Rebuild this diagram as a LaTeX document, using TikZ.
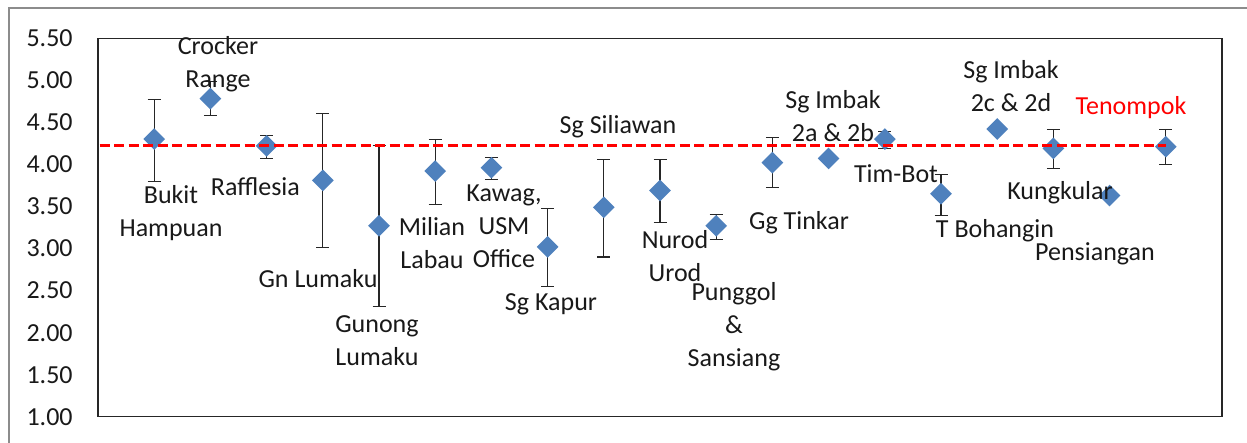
\documentclass[tikz,border=0pt]{standalone}
\usepackage{fontspec}
\setmainfont{Carlito}
\usetikzlibrary{shapes.geometric}
\definecolor{markblue}{RGB}{79,129,189}

\begin{document}
\begin{tikzpicture}[x=1.124cm, y=1.684cm,
    dmd/.style={diamond, fill=markblue, inner sep=0pt, minimum size=0.44cm},
    bar/.style={black!85, line width=0.6pt},
    lbl/.style={align=center, inner sep=0pt, text=black!90, font=\fontsize{14.8}{18.8}\selectfont}]
    \useasboundingbox (-1.744,0.691) rectangle (20.445,5.952);
    \draw[black!45, line width=1.1pt] (-1.584,0.691) -- (-1.584,5.857) -- (20.445,5.857);
    \draw[black!85, line width=0.6pt] (0,1) rectangle (20,5.5);
    \foreach \v [count=\i] in {1.00,1.50,2.00,2.50,3.00,3.50,4.00,4.50,5.00,5.50}
      \node[lbl, anchor=east] (tick\i) at (-0.445,\v) {\v};
    \foreach \x/\hi/\lo in {1/4.77/3.80, 2/4.98/4.58, 3/4.34/4.07, 4/4.60/3.01, 5/4.22/2.31,
        6/4.30/3.52, 7/4.08/3.82, 8/3.48/2.55, 9/4.06/2.90, 10/4.06/3.31, 11/3.41/3.11,
        12/4.32/3.73, 14/4.39/4.19, 15/3.88/3.39, 17/4.41/3.95, 19/4.41/4.00}
      \draw[bar] (\x,\lo) -- (\x,\hi)
        ([xshift=-0.13cm]\x,\hi) -- ([xshift=0.13cm]\x,\hi)
        ([xshift=-0.13cm]\x,\lo) -- ([xshift=0.13cm]\x,\lo);
    \foreach \x/\y in {1/4.30, 2/4.78, 3/4.22, 4/3.81, 5/3.27, 6/3.92, 7/3.96, 8/3.02, 9/3.49,
        10/3.69, 11/3.27, 12/4.02, 13/4.07, 14/4.30, 15/3.65, 16/4.42, 17/4.19, 18/3.63, 19/4.21}
      \node[dmd] (m\x) at (\x,\y) {};
    \coordinate (ref0) at (0.03,4.22);
    \draw[red, line width=1.7pt, dash pattern=on 0.2cm off 0.09cm] (ref0) -- (ref0 -| m19.center);
    \node[lbl] (bukit) at (1.299,3.423) {Bukit\\Hampuan};
    \node[lbl] (crocker) at (2.135,5.192) {Crocker\\Range};
    \node[lbl] (rafflesia) at (2.800,3.737) {Rafflesia};
    \node[lbl] (gnlumaku) at (3.915,2.639) {Gn Lumaku};
    \node[lbl] (gunong) at (4.964,1.903) {Gunong\\Lumaku};
    \node[lbl] (milian) at (5.943,3.067) {Milian\\Labau};
    \node[lbl] (kawag) at (7.224,3.268) {Kawag,\\USM\\Office};
    \node[lbl] (kapur) at (8.060,2.342) {Sg Kapur};
    \node[lbl] (siliawan) at (9.253,4.444) {Sg Siliawan};
    \node[lbl] (nurod) at (10.267,2.912) {Nurod\\Urod};
    \node[lbl] (punggol) at (11.317,2.069) {Punggol\\\&\\Sansiang};
    \node[lbl] (tinkar) at (12.473,3.310) {Gg Tinkar};
    \node[lbl] (imbakab) at (13.078,4.575) {Sg Imbak\\2a \& 2b};
    \node[lbl] (timbot) at (14.199,3.886) {Tim-Bot};
    \node[lbl] (bohangin) at (15.961,3.209) {T Bohangin};
    \node[lbl] (imbakcd) at (16.246,4.925) {Sg Imbak\\2c \& 2d};
    \node[lbl, text=red] (tenompok) at (18.381,4.670) {Tenompok};
    \node[lbl] (kungkular) at (17.117,3.660) {Kungkular};
    \node[lbl] (pensiangan) at (17.740,2.936) {Pensiangan};
\end{tikzpicture}
\end{document}
